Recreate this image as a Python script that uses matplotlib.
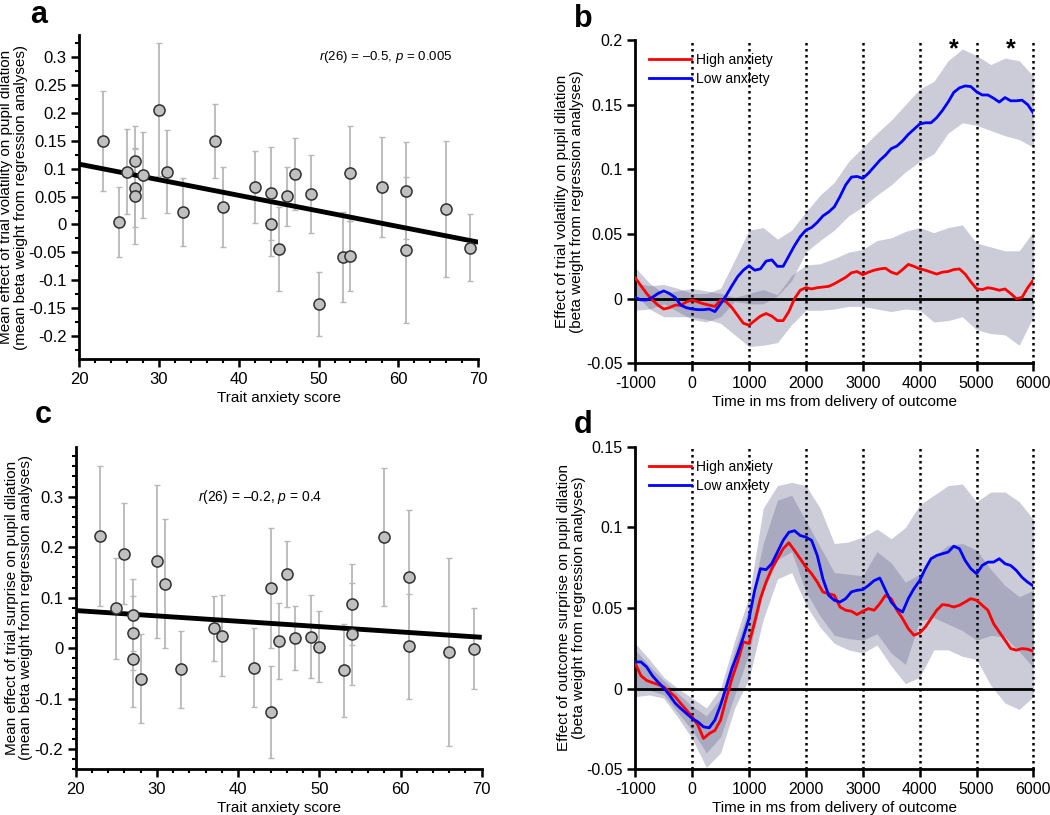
import matplotlib
matplotlib.use("Agg")
import matplotlib.pyplot as plt
import numpy as np
from matplotlib.ticker import MultipleLocator, FuncFormatter

plt.rcParams['font.family'] = ['Liberation Sans', 'DejaVu Sans']
plt.rcParams['mathtext.fontset'] = 'custom'
plt.rcParams['mathtext.rm'] = 'Liberation Sans'
plt.rcParams['mathtext.it'] = 'Liberation Sans:italic'
plt.rcParams['axes.unicode_minus'] = False

# ---- panels a / c : per-subject effects vs trait anxiety ----
anx = [23, 25, 26, 27, 27, 27, 28, 30, 31, 33, 37, 38, 42, 44, 44, 45, 46, 47, 49, 50,
       53, 54, 54, 58, 61, 61, 66, 69]
vol_eff = [0.150, 0.005, 0.095, 0.114, 0.066, 0.051, 0.089, 0.206, 0.095, 0.023, 0.150,
           0.032, 0.067, 0.056, 0.000, -0.044, 0.051, 0.091, 0.055, -0.143, -0.058,
           0.092, -0.057, 0.067, 0.061, -0.045, 0.028, -0.042]
vol_err = [0.089, 0.063, 0.076, 0.062, 0.070, 0.086, 0.077, 0.119, 0.074, 0.061, 0.067,
           0.072, 0.064, 0.083, 0.057, 0.076, 0.053, 0.065, 0.070, 0.058, 0.081, 0.085,
           0.063, 0.090, 0.087, 0.131, 0.122, 0.060]
sur_eff = [0.222, 0.079, 0.187, 0.066, 0.030, -0.021, -0.061, 0.172, 0.128, -0.042, 0.039,
           0.025, -0.039, 0.119, -0.127, 0.014, 0.147, 0.020, 0.023, 0.003, -0.044, 0.087,
           0.028, 0.220, 0.140, 0.004, -0.007, -0.001]
sur_err = [0.139, 0.100, 0.100, 0.071, 0.073, 0.096, 0.088, 0.151, 0.127, 0.076, 0.065,
           0.081, 0.078, 0.119, 0.091, 0.075, 0.066, 0.064, 0.082, 0.071, 0.092, 0.080,
           0.101, 0.137, 0.134, 0.104, 0.186, 0.080]

# ---- panels b / d : time courses (ms from outcome) ----
t_ms = np.arange(-1000, 6001, 100)
b_high = [0.016, 0.010, 0.004, -0.001, -0.005, -0.008, -0.007, -0.005, -0.005, -0.0025,
          -0.001, -0.0025, -0.004, -0.005, -0.006, -0.001, -0.0025, -0.007, -0.013, -0.019,
          -0.0205, -0.017, -0.0135, -0.0115, -0.0135, -0.017, -0.017, -0.010, 0.000, 0.0065,
          0.0085, 0.0075, 0.0085, 0.009, 0.0095, 0.0115, 0.014, 0.0165, 0.020, 0.021,
          0.0185, 0.0205, 0.022, 0.023, 0.0235, 0.0205, 0.019, 0.0225, 0.0265, 0.025,
          0.023, 0.022, 0.0205, 0.019, 0.0205, 0.021, 0.0225, 0.023, 0.019, 0.013,
          0.0077, 0.007, 0.0085, 0.0077, 0.0065, 0.0075, 0.004, 0.000, 0.001, 0.0085, 0.0145]
b_low = [0.001, -0.001, -0.001, 0.001, 0.004, 0.006, 0.004, 0.001, -0.005, -0.007,
         -0.008, -0.0085, -0.0085, -0.008, -0.010, -0.004, 0.0025, 0.010, 0.017, 0.022,
         0.0255, 0.022, 0.023, 0.029, 0.030, 0.025, 0.025, 0.033, 0.041, 0.048,
         0.053, 0.055, 0.059, 0.064, 0.067, 0.071, 0.079, 0.088, 0.094, 0.0945,
         0.093, 0.097, 0.102, 0.107, 0.111, 0.116, 0.118, 0.122, 0.127, 0.131,
         0.135, 0.136, 0.136, 0.140, 0.1455, 0.152, 0.1595, 0.163, 0.1645, 0.164,
         0.160, 0.1575, 0.1575, 0.155, 0.152, 0.1555, 0.153, 0.153, 0.1535, 0.150, 0.1435]
d_high = [0.0155, 0.008, 0.005, 0.0037, 0.0025, 0.001, -0.002, -0.005, -0.0093, -0.0134,
          -0.0176, -0.0227, -0.031, -0.028, -0.026, -0.0196, -0.0062, 0.0062, 0.0165, 0.029,
          0.028, 0.0413, 0.0558, 0.0661, 0.0744, 0.0806, 0.0868, 0.0905, 0.0857, 0.0806,
          0.0754, 0.0713, 0.0661, 0.0599, 0.0589, 0.0579, 0.0506, 0.0486, 0.048, 0.0459,
          0.048, 0.0496, 0.0486, 0.0527, 0.0579, 0.0558, 0.0486, 0.0434, 0.0372, 0.0331,
          0.0345, 0.0382, 0.0434, 0.0486, 0.0521, 0.0517, 0.0506, 0.0517, 0.0537, 0.0558,
          0.0548, 0.0517, 0.0486, 0.0403, 0.0351, 0.030, 0.0248, 0.0238, 0.0248, 0.0244, 0.0231]
d_low = [0.0165, 0.0165, 0.0134, 0.008, 0.004, 0.0004, -0.004, -0.009, -0.0124, -0.0155,
         -0.0186, -0.0207, -0.0238, -0.0244, -0.0196, -0.0103, 0.001, 0.0124, 0.0217, 0.032,
         0.0434, 0.061, 0.0744, 0.0738, 0.0775, 0.0847, 0.092, 0.097, 0.098, 0.095,
         0.094, 0.092, 0.0826, 0.068, 0.0579, 0.0548, 0.0537, 0.0558, 0.060, 0.061,
         0.0614, 0.064, 0.067, 0.0686, 0.061, 0.0537, 0.0496, 0.0475, 0.0558, 0.062,
         0.067, 0.0744, 0.0806, 0.0826, 0.0837, 0.0847, 0.0884, 0.0868, 0.0795, 0.0744,
         0.0713, 0.0764, 0.0785, 0.0785, 0.0806, 0.0775, 0.0764, 0.0733, 0.069, 0.066, 0.0636]

# confidence bands, every 250 ms
t_band = np.arange(-1000, 6001, 250)
b_low_lo = [-0.009, -0.008, -0.004, -0.010, -0.016, -0.018, -0.014, -0.002, -0.004, -0.004,
            0.002, 0.014, 0.036, 0.045, 0.053, 0.064, 0.071, 0.080, 0.088, 0.098,
            0.106, 0.112, 0.128, 0.136, 0.134, 0.130, 0.126, 0.123, 0.117]
b_low_hi = [0.012, 0.010, 0.011, 0.008, 0.004, 0.004, 0.008, 0.030, 0.053, 0.055,
            0.046, 0.053, 0.067, 0.080, 0.090, 0.106, 0.117, 0.128, 0.138, 0.150,
            0.162, 0.168, 0.184, 0.193, 0.188, 0.181, 0.186, 0.184, 0.172]
b_high_lo = [0.004, -0.008, -0.014, -0.014, -0.014, -0.016, -0.019, -0.028, -0.037, -0.036,
             -0.034, -0.020, -0.009, -0.009, -0.008, -0.006, -0.006, -0.008, -0.010, -0.008,
             -0.009, -0.018, -0.017, -0.014, -0.024, -0.027, -0.028, -0.036, -0.014]
b_high_hi = [0.024, 0.012, 0.004, 0.006, 0.008, 0.006, 0.004, 0.001, 0.004, 0.007,
             0.003, 0.018, 0.026, 0.027, 0.031, 0.036, 0.038, 0.045, 0.047, 0.052,
             0.055, 0.051, 0.055, 0.057, 0.043, 0.040, 0.037, 0.037, 0.052]
d_low_lo = [0.000, -0.001, -0.004, -0.015, -0.026, -0.040, -0.030, -0.004, 0.022, 0.060,
            0.080, 0.085, 0.060, 0.045, 0.033, 0.031, 0.030, 0.034, 0.022, 0.015,
            0.042, 0.044, 0.040, 0.036, 0.030, 0.033, 0.032, 0.023, 0.013]
d_low_hi = [0.028, 0.018, 0.007, 0.000, -0.006, -0.012, 0.000, 0.030, 0.057, 0.112,
            0.126, 0.128, 0.126, 0.112, 0.090, 0.091, 0.094, 0.099, 0.093, 0.100,
            0.114, 0.120, 0.126, 0.127, 0.116, 0.122, 0.122, 0.116, 0.105]
d_high_lo = [-0.005, -0.004, -0.006, -0.018, -0.031, -0.049, -0.040, -0.012, 0.006, 0.043,
             0.068, 0.072, 0.052, 0.038, 0.028, 0.024, 0.022, 0.027, 0.014, 0.003,
             0.007, 0.024, 0.024, 0.020, 0.018, 0.002, -0.009, -0.013, -0.005]
d_high_hi = [0.024, 0.014, 0.005, -0.003, -0.011, -0.017, -0.006, 0.024, 0.050, 0.090,
             0.117, 0.120, 0.104, 0.088, 0.072, 0.071, 0.070, 0.085, 0.078, 0.066,
             0.071, 0.082, 0.089, 0.090, 0.086, 0.074, 0.064, 0.057, 0.061]

sig_ms = [4600, 5600]

band_col = '#64648c'
fmt = FuncFormatter(lambda v, p: '%g' % round(v, 4))


def style_axis(ax, tick_fs):
    for s in ['top', 'right']:
        ax.spines[s].set_visible(False)
    for s in ['left', 'bottom']:
        ax.spines[s].set_linewidth(2.0)
    ax.tick_params(which='major', direction='out', length=6, width=1.8, labelsize=tick_fs, pad=3)
    ax.tick_params(which='minor', direction='out', length=3, width=1.5)
    ax.yaxis.set_major_formatter(fmt)
    ax.xaxis.set_major_formatter(fmt)


def scatter_panel(ax, y, err, ylim, ymaj, ymin, ylabel, lab_x, txt, txt_xy, txt_fs):
    ax.errorbar(anx, y, yerr=err, fmt='none', ecolor='#b8b8b8', elinewidth=1.3,
                capsize=2, capthick=1.0, zorder=1)
    k, c0 = np.polyfit(anx, y, 1)
    xs = np.array([20, 70])
    ax.plot(xs, k * xs + c0, color='black', lw=3.5, zorder=2, solid_capstyle='butt')
    ax.plot(anx, y, 'o', ms=8, mfc='#c0c0c0', mec='#303030', mew=1.1, zorder=3)
    ax.set_xlim(20, 70)
    ax.set_ylim(*ylim)
    ax.xaxis.set_major_locator(MultipleLocator(10))
    ax.xaxis.set_minor_locator(MultipleLocator(2))
    ax.yaxis.set_major_locator(MultipleLocator(ymaj))
    ax.yaxis.set_minor_locator(MultipleLocator(ymin))
    style_axis(ax, 12)
    ax.set_xlabel('Trait anxiety score', fontsize=11, labelpad=3)
    ax.set_ylabel(ylabel, fontsize=11, linespacing=1.05)
    ax.yaxis.set_label_coords(lab_x, 0.5)
    ax.text(txt_xy[0], txt_xy[1], txt, fontsize=txt_fs, va='center')


def time_panel(ax, ylim, ymaj, ylabel, lab_x, bands, lines, stars=False):
    for lo, hi in bands:
        ax.fill_between(t_band, lo, hi, color=band_col, alpha=0.33, lw=0, zorder=1)
    for x in range(0, 6001, 1000):
        ax.axvline(x, color='black', lw=1.8, ls=(0, (1, 1.4)), zorder=2, clip_on=False)
    ax.axhline(0, color='black', lw=2.0, zorder=3)
    hi_line, lo_line = lines
    ax.plot(t_ms, hi_line, color='#ff0000', lw=2.0, zorder=4, label='High anxiety')
    ax.plot(t_ms, lo_line, color='#0000ff', lw=2.0, zorder=4, label='Low anxiety')
    ax.set_xlim(-1000, 6000)
    ax.set_ylim(*ylim)
    ax.xaxis.set_major_locator(MultipleLocator(1000))
    ax.yaxis.set_major_locator(MultipleLocator(ymaj))
    style_axis(ax, 11.5)
    ax.set_xlabel('Time in ms from delivery of outcome', fontsize=11, labelpad=3)
    ax.set_ylabel(ylabel, fontsize=11, linespacing=1.05)
    ax.yaxis.set_label_coords(lab_x, 0.5)
    ax.legend(loc='upper left', bbox_to_anchor=(0.035, 0.96), frameon=False, fontsize=10,
              handlelength=3.0, handletextpad=0.35, borderaxespad=0, borderpad=0,
              labelspacing=0.35)
    if stars:
        for s in sig_ms:
            ax.text(s, 0.193, '*', fontsize=18, fontweight='bold', ha='center', va='center')


fig = plt.figure(figsize=(10.5, 8.15), dpi=100)
ax_a = fig.add_axes([0.0752, 0.5591, 0.3803, 0.3979])
ax_b = fig.add_axes([0.6050, 0.5542, 0.3792, 0.3967])
ax_c = fig.add_axes([0.0721, 0.0561, 0.3867, 0.3958])
ax_d = fig.add_axes([0.6050, 0.0564, 0.3792, 0.3952])

scatter_panel(ax_a, vol_eff, vol_err, (-0.242, 0.34), 0.05, 0.025,
              'Mean effect of trial volatility on pupil dilation\n'
              '(mean beta weight from regression analyses)', -0.128,
              r'$r$(26) = –0.5, $p$ = 0.005', (50, 0.30), 9.5)
scatter_panel(ax_c, sur_eff, sur_err, (-0.24, 0.399), 0.1, 0.02,
              'Mean effect of trial surprise on pupil dilation\n'
              '(mean beta weight from regression analyses)', -0.105,
              r'$r$(26) = –0.2, $p$ = 0.4', (35, 0.30), 10)

time_panel(ax_b, (-0.05, 0.2), 0.05,
           'Effect of trial volatility on pupil dilation\n(beta weight from regression analyses)',
           -0.129, [(b_low_lo, b_low_hi), (b_high_lo, b_high_hi)], (b_high, b_low), stars=True)
time_panel(ax_d, (-0.05, 0.15), 0.05,
           'Effect of outcome surprise on pupil dilation\n(beta weight from regression analyses)',
           -0.124, [(d_low_lo, d_low_hi), (d_high_lo, d_high_hi)], (d_high, d_low))

for lab, x, y in [('a', 30, 23), ('b', 574, 27), ('c', 35, 423), ('d', 574, 433)]:
    fig.text(x / 1050, 1 - y / 815, lab, fontsize=22, fontweight='bold', va='baseline')

fig.savefig('out.png', dpi=100)
